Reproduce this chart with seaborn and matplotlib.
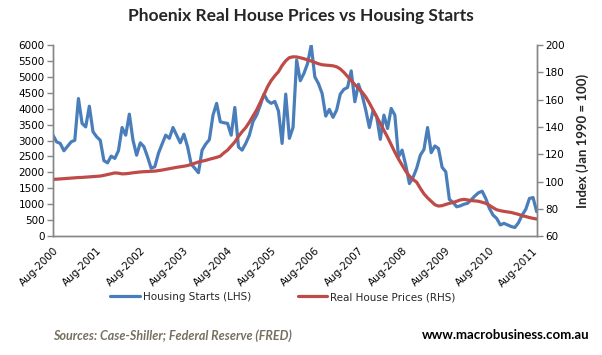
import numpy as np
import pandas as pd
import matplotlib
matplotlib.use('Agg')
import matplotlib.pyplot as plt
import seaborn as sns

# monthly data, Aug-2000 .. Sep-2011
housing_starts = [
    3170, 2960, 2910, 2680, 2820, 2960, 3010, 4320, 3540, 3430,
    4080, 3280, 3120, 3010, 2370, 2300, 2510, 2440, 2680, 3410,
    3170, 3830, 3010, 2540, 2930, 2810, 2490, 2130, 2180, 2600,
    2890, 3170, 3070, 3410, 3170, 2930, 3200, 2810, 2260, 2130,
    1990, 2700, 2890, 3030, 3800, 4170, 3590, 3560, 3540, 3170,
    4040, 2800, 2700, 2910, 3170, 3600, 3800, 4110, 4460, 4250,
    4170, 4230, 3930, 2910, 4460, 3070, 3410, 5530, 4880, 5110,
    5420, 6000, 5000, 4790, 4480, 3770, 3980, 3730, 3960, 4460,
    4610, 4670, 5190, 4220, 4770, 4430, 3960, 3410, 3940, 3750,
    3040, 3800, 3380, 4010, 3800, 2490, 2700, 2230, 1650, 1840,
    2130, 2540, 2720, 3410, 2620, 2830, 2750, 2160, 2020, 1150,
    1060, 920, 950, 1000, 1030, 1140, 1260, 1360, 1410, 1180,
    870, 660, 555, 350, 400, 350, 300, 270, 420, 660,
    840, 1180, 1210, 765,
]

real_prices = [
    101.6, 101.7, 101.9, 102.1, 102.3, 102.5, 102.7, 102.9, 103.0, 103.2,
    103.4, 103.6, 103.8, 104.0, 104.5, 105.1, 105.7, 106.3, 106.1, 105.6,
    105.7, 106.0, 106.4, 106.7, 107.0, 107.2, 107.3, 107.5, 107.6, 108.0,
    108.4, 108.9, 109.4, 109.9, 110.4, 110.8, 111.2, 111.7, 112.5, 113.4,
    114.3, 114.9, 115.5, 116.3, 117.0, 117.7, 118.6, 121.0, 123.0, 126.0,
    129.0, 133.0, 136.5, 139.5, 143.5, 148.0, 152.5, 158.0, 163.5, 169.5,
    174.0, 177.5, 180.5, 185.0, 188.5, 190.8, 191.4, 191.3, 190.7, 190.0,
    189.2, 188.3, 187.3, 186.3, 185.6, 185.3, 185.1, 184.8, 184.1, 182.5,
    180.0, 177.0, 174.0, 171.0, 168.5, 165.5, 162.0, 157.5, 152.5, 147.5,
    142.5, 137.5, 132.5, 127.0, 121.5, 116.5, 112.0, 107.5, 104.0, 101.5,
    99.5, 95.0, 91.0, 88.0, 85.5, 83.0, 82.0, 82.3, 83.2, 84.0,
    84.6, 85.5, 86.5, 86.9, 86.5, 86.0, 85.8, 85.5, 84.8, 84.0,
    82.5, 80.8, 79.3, 78.6, 78.1, 77.7, 77.3, 76.6, 75.9, 75.0,
    74.3, 73.6, 73.0, 72.5,
]

tick_labels = ['Aug-2000', 'Aug-2001', 'Aug-2002', 'Aug-2003', 'Aug-2004', 'Aug-2005',
               'Aug-2006', 'Aug-2007', 'Aug-2008', 'Aug-2009', 'Aug-2010', 'Aug-2011']

df = pd.DataFrame({'month': np.arange(len(housing_starts)),
                   'starts': housing_starts,
                   'prices': real_prices})

sns.set_style('white')
plt.rcParams['font.family'] = ['DejaVu Sans']

blue = '#4a7ebb'
red = '#be4b48'
grey = '#868686'

fig = plt.figure(figsize=(6.02, 3.55), dpi=100)
ax = fig.add_axes([0.088, 0.335, 0.8035, 0.538])
ax2 = ax.twinx()

sns.lineplot(x='month', y='starts', data=df, ax=ax, color=blue, lw=2.3,
             label='Housing Starts (LHS)', legend=False)
sns.lineplot(x='month', y='prices', data=df, ax=ax2, color=red, lw=2.3,
             label='Real House Prices (RHS)', legend=False)

ax.set_xlim(0, len(housing_starts) - 1)
ax.set_ylim(0, 6000)
ax2.set_ylim(60, 200)
ax.set_yticks(np.arange(0, 6001, 500))
ax2.set_yticks(np.arange(60, 201, 20))
ax.set_xticks(np.arange(0, len(housing_starts), 12))
ax.set_xticklabels(tick_labels, rotation=45, ha='right', va='top',
                   rotation_mode='anchor', fontsize=7.5)
ax.set_xlabel('')
ax.set_ylabel('')
ax2.set_ylabel('Index (Jan 1990 = 100)', fontsize=9.5, fontweight='bold',
               family='Lato', labelpad=8)

for a in (ax, ax2):
    for s in a.spines.values():
        s.set_color(grey)
        s.set_linewidth(1.0)
    a.spines['top'].set_visible(False)
    a.tick_params(axis='both', colors=grey, labelcolor='black', labelsize=7.5,
                  length=4, width=1, direction='out', pad=2)
    a.grid(False)
ax.tick_params(axis='x', pad=3)

fig.text(0.5, 0.955, 'Phoenix Real House Prices vs Housing Starts', ha='center',
         va='center', fontsize=12.5, fontweight='bold', family='Lato')

h1, l1 = ax.get_legend_handles_labels()
h2, l2 = ax2.get_legend_handles_labels()
fig.legend(h1 + h2, l1 + l2, loc='center', bbox_to_anchor=(0.47, 0.163), ncol=2,
           frameon=False, fontsize=7.5, handlelength=2.8, columnspacing=4.5,
           handletextpad=0.3)

fig.text(0.088, 0.055, 'Sources: Case-Shiller; Federal Reserve (FRED)', ha='left',
         va='center', fontsize=9, fontweight='bold', style='italic',
         color='#76705f', family='Lato')
fig.text(0.98, 0.055, 'www.macrobusiness.com.au', ha='right', va='center',
         fontsize=9.5, fontweight='bold', color='black', family='Lato')

fig.savefig('out.png', dpi=100)
